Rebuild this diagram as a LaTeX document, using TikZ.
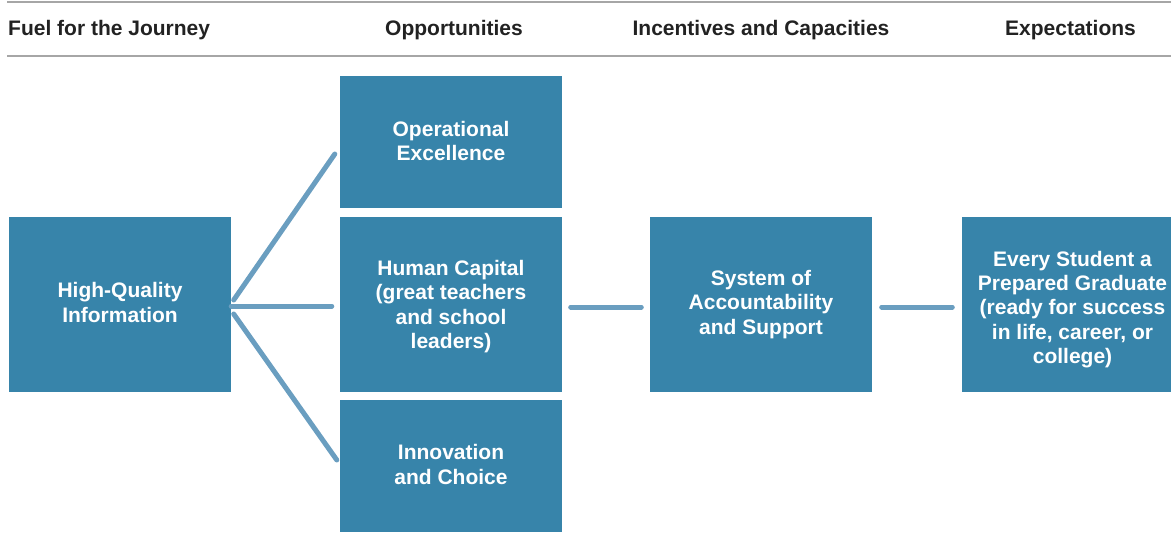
\documentclass[tikz,border=0pt]{standalone}
\usepackage{fontspec}
\setmainfont{Liberation Sans}
\definecolor{boxblue}{HTML}{3784AA}
\definecolor{linkblue}{HTML}{6A9EC0}
\definecolor{headgray}{HTML}{A6A6A6}
\definecolor{headtext}{HTML}{222222}
\begin{document}
\begin{tikzpicture}[x=1pt,y=-1pt,
  boxtext/.style={text=white, inner sep=0pt, align=center,
    font={\fontsize{21}{24.4}\selectfont\bfseries}},
  stagebox/.style={boxtext, fill=boxblue, draw=none, minimum width=222pt},
  tallbox/.style={stagebox, minimum height=175pt},
  shortbox/.style={stagebox, minimum height=132pt},
  conn/.style={draw=linkblue, line width=5pt, line cap=round},
  rule/.style={draw=headgray, line width=2pt},
  header/.style={text=headtext, inner sep=0pt, anchor=base, font={\fontsize{21}{24.5}\selectfont\bfseries}}]
\useasboundingbox (0,0) rectangle (1171,550);
\clip (0,0) rectangle (1171,550);
% header rules
\coordinate (r1a) at (7,2); \coordinate (r1b) at (1175,2);
\coordinate (r2a) at (7,56); \coordinate (r2b) at (1175,56);
\draw[rule] (r1a) -- (r1b);
\draw[rule] (r2a) -- (r2b);
% headers
\node[header, anchor=base west] (h1) at (8,35.5) {Fuel for the Journey};
\node[header] (h2) at (454,35.5) {Opportunities};
\node[header] (h3) at (761,35.5) {Incentives and Capacities};
\node[header] (h4) at (1070.5,35.5) {Expectations};
% boxes
\node[tallbox] (hq) at (120,304.5) {};
\node[boxtext] (hqt) at (120,302.5) {High-Quality\\Information};
\node[shortbox] (op) at (451,142) {};
\node[boxtext] (opt) at (451,141) {Operational\\Excellence};
\node[tallbox] (hc) at (451,304.5) {};
\node[boxtext] (hct) at (451,306.5) {Human Capital\\(great teachers\\and school\\leaders)};
\node[shortbox] (ic) at (451,465.5) {};
\node[boxtext] (ict) at (451,464.5) {Innovation\\and Choice};
\node[tallbox] (sa) at (761,304.5) {};
\node[boxtext] (sat) at (761,304.5) {System of\\Accountability\\and Support};
\node[tallbox] (es) at (1073,304.5) {};
\node[boxtext] (est) at (1072.5,309.5) {Every Student a\\Prepared Graduate\\(ready for success\\in life, career, or\\college)};
% connectors
\draw[conn] ([xshift=2.5pt,yshift=4.5pt]hq.east) -- ([xshift=-5pt,yshift=-12pt]op.west);
\draw[conn] ([xshift=0pt,yshift=-1.5pt]hq.east) -- ([xshift=-8pt,yshift=-1.5pt]hc.west);
\draw[conn] ([xshift=2.5pt,yshift=-9.5pt]hq.east) -- ([xshift=-3pt,yshift=5.5pt]ic.west);
\draw[conn] ([xshift=8.5pt,yshift=-2.5pt]hc.east) -- ([xshift=-8.5pt,yshift=-2.5pt]sa.west);
\draw[conn] ([xshift=9.5pt,yshift=-2.5pt]sa.east) -- ([xshift=-9.5pt,yshift=-2.5pt]es.west);
\end{tikzpicture}
\end{document}
